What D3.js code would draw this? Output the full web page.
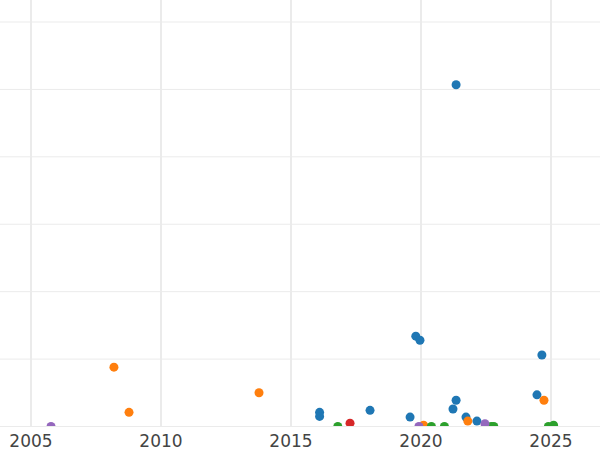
<!DOCTYPE html><html><head><script src="https://cdn.jsdelivr.net/npm/d3@7"></script>
<style>body{margin:0;background:#fff}</style></head><body><svg id="c" width="600" height="450"></svg>
<script>
const blueX=[2021.35,2019.8,2019.96,2024.65,2016.1,2016.1,2018.04,2019.58,2021.35,2021.23,2021.73,2022.15,2024.46];
const blueY=[5.07,1.34,1.28,1.06,0.21,0.15,0.24,0.14,0.39,0.26,0.14,0.08,0.47];
const orangeX=[2008.19,2008.77,2013.77,2024.73,2021.8,2020.1];
const orangeY=[0.88,0.21,0.5,0.39,0.08,0.02];
const greenX=[2016.8,2020.4,2020.9,2022.7,2022.8,2024.9,2025.1];
const greenY=[0,0,0,0,0,0,0.02];
const redX=[2017.27]; const redY=[0.05];
const purpleX=[2005.77,2019.92,2022.46]; const purpleY=[0,0,0.04];
const xTicks=[2005,2010,2015,2020,2025];
const yTicks=[0,1,2,3,4,5,6];
const series=[[blueX,blueY,"#1f77b4"],[orangeX,orangeY,"#ff7f0e"],[greenX,greenY,"#2ca02c"],[redX,redY,"#d62728"],[purpleX,purpleY,"#9467bd"]];
const svg=d3.select("#c");
const x=d3.scaleLinear().domain([2005,2025]).range([31,551]);
const y=d3.scaleLinear().domain([0,6]).range([426.5,22]);
const plotTop=0,plotBottom=426;
svg.append("defs").append("clipPath").attr("id","cl").append("rect").attr("x",0).attr("y",plotTop).attr("width",600).attr("height",plotBottom-plotTop);
svg.append("g").selectAll("line").data(yTicks).join("line").attr("x1",0).attr("x2",600).attr("y1",d=>y(d)).attr("y2",d=>y(d)).attr("stroke","#ebebeb").attr("stroke-width",1);
svg.append("g").selectAll("line").data(xTicks).join("line").attr("x1",d=>x(d)).attr("x2",d=>x(d)).attr("y1",0).attr("y2",plotBottom).attr("stroke","#ebebeb").attr("stroke-width",2);
const g=svg.append("g").attr("clip-path","url(#cl)");
series.forEach(([xs,ys,c])=>{g.selectAll(null).data(xs).join("circle").attr("cx",d=>x(d)).attr("cy",(d,i)=>y(ys[i])).attr("r",4.5).attr("fill",c);});
svg.append("g").selectAll("text").data(xTicks).join("text").attr("x",d=>x(d)).attr("y",447).attr("text-anchor","middle").attr("font-family","DejaVu Sans").attr("font-size",17).attr("fill","#444").text(d=>d);
</script></body></html>
